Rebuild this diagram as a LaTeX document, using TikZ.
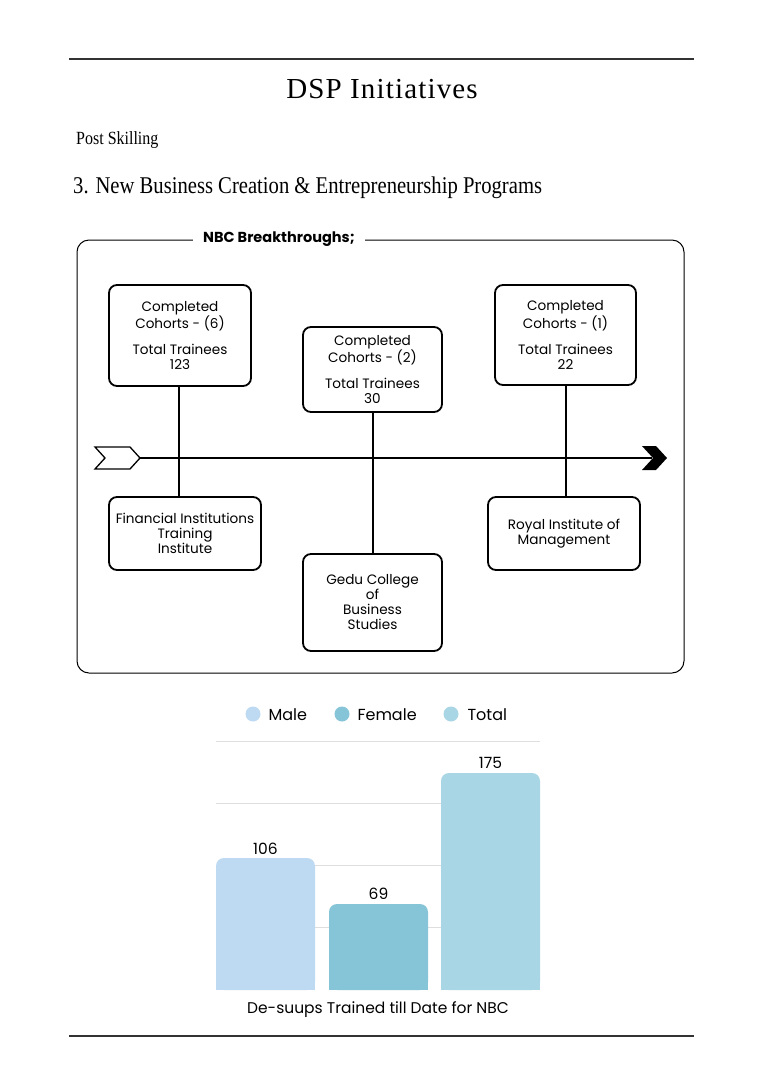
\documentclass[tikz,border=0pt]{standalone}
\usepackage{fontspec}
\setmainfont{Liberation Serif}
\newfontfamily\sansf{Poppins}
\newfontfamily\titlef[LetterSpace=4]{Liberation Serif}
\newfontfamily\condserif[FakeStretch=0.86]{Liberation Serif}
\definecolor{malec}{HTML}{BDDAF2}
\definecolor{femalec}{HTML}{86C4D8}
\definecolor{totalc}{HTML}{A9D6E5}
\definecolor{gridc}{HTML}{DEDEDE}
\definecolor{rulec}{HTML}{333333}
\tikzset{
  infobox/.style={draw=black, line width=1.8pt, rounded corners=8pt, align=center,
    font=\sansf\fontsize{13.6}{15}\selectfont, inner sep=2pt},
  link/.style={draw=black, line width=1.7pt},
  gridline/.style={draw=gridc, line width=0.8pt},
  vallabel/.style={font=\sansf\fontsize{15.5}{18}\selectfont, anchor=base},
  legtext/.style={font=\sansf\fontsize{16}{19}\selectfont, anchor=base west},
}
\begin{document}
\begin{tikzpicture}[x=1pt,y=-1pt]
\useasboundingbox[fill=white] (0,0) rectangle (764,1080);
% rules
\draw[rulec, line width=1.2pt] (69,59) -- (694,59);
\draw[rulec, line width=1.2pt] (69,1036) -- (694,1036);
% headings
\node[font=\titlef\fontsize{29}{34}\selectfont, anchor=base] (title) at (382,98) {DSP Initiatives};
\node[font=\condserif\fontsize{18.6}{22}\selectfont, anchor=base west, inner sep=0pt] (post) at (76,144) {Post Skilling};
\node[font=\condserif\fontsize{24}{28}\selectfont, anchor=base west, inner sep=0pt] (sect) at (73,193) {3. New Business Creation \& Entrepreneurship Programs};
% frame
\draw[black, line width=1pt, rounded corners=12pt] (77,240) rectangle (684,673);
\node[fill=white, font=\sansf\bfseries\fontsize{14.5}{17}\selectfont, inner xsep=10pt] (frametitle) at (279,239) {NBC Breakthroughs;};
% boxes
\node[infobox, minimum width=142pt, minimum height=101pt] (tl) at (180,335.5)
  {Completed\\Cohorts - (6)\\[11pt]Total Trainees\\123};
\node[infobox, minimum width=139pt, minimum height=85pt] (tm) at (372.5,369.5)
  {Completed\\Cohorts - (2)\\[11pt]Total Trainees\\30};
\node[infobox, minimum width=141pt, minimum height=100pt] (tr) at (565.5,335)
  {Completed\\Cohorts - (1)\\[11pt]Total Trainees\\22};
\node[infobox, minimum width=152pt, minimum height=73pt] (bl) at (185,533.5)
  {Financial Institutions\\Training\\Institute};
\node[infobox, minimum width=139pt, minimum height=97pt] (bm) at (372.5,602.5)
  {Gedu College\\of\\Business\\Studies};
\node[infobox, minimum width=152pt, minimum height=73pt] (br) at (564,533.5)
  {Royal Institute of\\Management};
% timeline
\coordinate (tstart) at (140,458);
\coordinate (tend) at (652,458);
\draw[link] (tstart) -- (tend);
\draw[link] (179,0 |- tl.south) -- (179,0 |- bl.north);
\draw[link] (373,0 |- tm.south) -- (373,0 |- bm.north);
\draw[link] (566,0 |- tr.south) -- (566,0 |- br.north);
\draw[fill=white, draw=black, line width=1.3pt, line join=miter]
  (95,447) -- (130,447) -- (140,458) -- (130,469) -- (95,469) -- (105,458) -- cycle;
\fill[black] (642,446) -- (656,446) -- (667,458) -- (656,470) -- (642,470) -- (653,458) -- cycle;
% legend
\fill[malec] (253,714) circle (7.5pt);
\node[legtext] (lm) at (265,720) {Male};
\fill[femalec] (342,714) circle (7.5pt);
\node[legtext] (lf) at (354,720) {Female};
\fill[totalc] (451,714) circle (7.5pt);
\node[legtext] (lt) at (464,720) {Total};
% grid
\foreach \gy in {741,803,865,927} { \draw[gridline] (216,\gy) -- (540,\gy); }
% bars
\fill[malec, rounded corners=8pt] (216,990) |- (315,858) -- (315,990) -- cycle;
\fill[femalec, rounded corners=8pt] (329,990) |- (428,904) -- (428,990) -- cycle;
\fill[totalc, rounded corners=8pt] (441,990) |- (540,773) -- (540,990) -- cycle;
\fill[malec] (216,970) rectangle (315,990);
\fill[femalec] (329,970) rectangle (428,990);
\fill[totalc] (441,970) rectangle (540,990);
\node[vallabel] (v1) at (265.5,854) {106};
\node[vallabel] (v2) at (378.5,899) {69};
\node[vallabel] (v3) at (490.5,768) {175};
\node[font=\sansf\fontsize{15.5}{18}\selectfont, anchor=base] (cap) at (378,1013) {De-suups Trained till Date for NBC};
\end{tikzpicture}
\end{document}
